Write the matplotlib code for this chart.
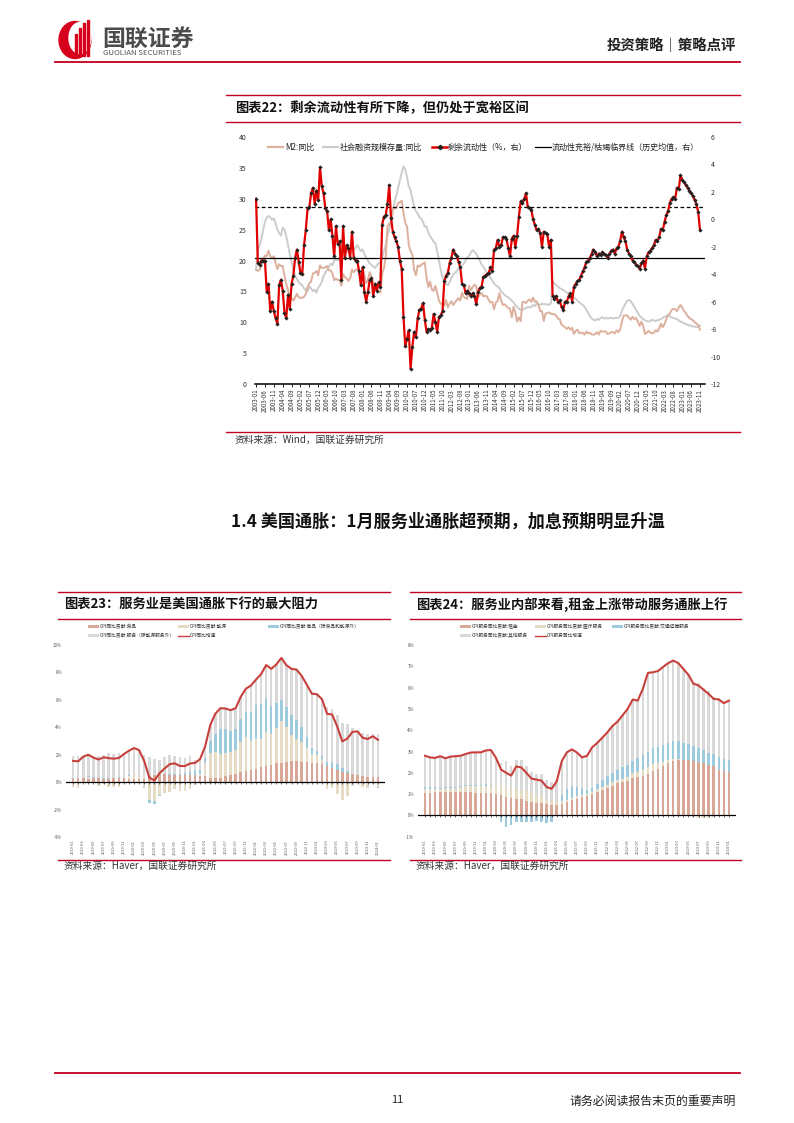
import numpy as np
import pandas as pd
import matplotlib
matplotlib.use('Agg')
import matplotlib.pyplot as plt
from matplotlib.patches import Ellipse, Rectangle

plt.rcParams['font.family'] = ['Noto Sans CJK SC', 'DejaVu Sans']
plt.rcParams['axes.unicode_minus'] = False

W, H = 794, 1123
RED_RULE = '#C00020'

# ---------------- chart 22 data (monthly 2003-01 .. 2023-11) ----------------
months22 = pd.period_range('2003-01', '2023-11', freq='M')

m2_yoy = [
    18.5, 18.3, 18.5, 19.2, 20.2, 20.8, 20.7, 21.6, 20.7, 20.4, 20.7, 19.6,
    18.6, 19.4, 19.1, 19.1, 17.5, 16.2, 15.3, 13.6, 13.9, 13.5, 14.0, 14.6,
    14.1, 13.9, 14.0, 14.1, 14.6, 15.7, 16.3, 16.6, 17.9, 18.0, 18.3, 17.6,
    19.2, 18.8, 18.8, 18.9, 19.1, 18.4, 18.4, 17.9, 16.8, 17.1, 16.8, 16.9,
    15.9, 17.8, 17.3, 17.1, 16.7, 17.1, 18.5, 18.1, 18.5, 18.5, 18.5, 16.7,
    18.9, 17.5, 16.3, 16.9, 18.1, 17.4, 16.4, 16.0, 15.3, 15.0, 14.8, 17.8,
    18.8, 20.5, 25.5, 26.0, 25.7, 28.5, 28.4, 28.5, 29.3, 29.4, 29.7, 27.7,
    26.1, 25.5, 22.5, 21.5, 21.0, 18.5, 17.6, 19.2, 19.0, 19.3, 19.5, 19.7,
    17.2, 15.7, 16.6, 15.3, 15.1, 15.9, 14.7, 13.5, 13.0, 12.9, 12.7, 13.6,
    12.4, 13.0, 13.4, 12.8, 13.2, 13.6, 13.9, 13.5, 14.8, 14.1, 13.9, 13.8,
    15.9, 15.2, 15.7, 16.1, 15.8, 14.0, 14.5, 14.7, 14.2, 14.3, 14.2, 13.6,
    13.2, 13.3, 12.1, 13.2, 13.4, 14.7, 13.5, 12.8, 12.9, 12.6, 12.3, 12.2,
    10.8, 12.5, 11.6, 10.1, 10.8, 10.2, 13.3, 13.3, 13.1, 13.5, 13.7, 13.3,
    14.0, 13.3, 13.4, 12.8, 11.8, 11.8, 10.2, 11.4, 11.5, 11.6, 11.4, 11.3,
    11.3, 11.1, 10.6, 10.5, 9.6, 9.4, 9.2, 8.9, 9.2, 8.8, 9.1, 8.1,
    8.6, 8.8, 8.2, 8.3, 8.3, 8.0, 8.5, 8.2, 8.3, 8.0, 8.0, 8.1,
    8.4, 8.0, 8.6, 8.5, 8.5, 8.5, 8.1, 8.2, 8.4, 8.4, 8.2, 8.7,
    8.4, 8.8, 10.1, 11.1, 11.1, 11.1, 10.7, 10.4, 10.9, 10.5, 10.7, 10.1,
    9.4, 10.1, 9.4, 8.1, 8.3, 8.6, 8.3, 8.2, 8.3, 8.7, 8.5, 9.0,
    9.8, 9.2, 9.7, 10.5, 11.1, 11.4, 12.0, 12.2, 12.1, 11.8, 12.4, 12.8,
    12.4, 11.8, 11.5, 11.0, 10.7, 10.5, 10.3, 10.0, 9.8, 9.5, 8.8,
]

tsf_yoy = [
    18.5, 21.5, 22.5, 23.5, 25.0, 26.2, 27.0, 27.2, 27.0, 26.6, 26.8, 26.0,
    25.0, 24.5, 24.0, 25.3, 25.0, 24.0, 22.5, 21.0, 19.8, 18.5, 17.5, 17.0,
    16.5, 16.2, 16.0, 15.5, 15.2, 15.0, 15.8, 15.5, 15.0, 15.3, 14.8, 15.6,
    16.0, 16.5, 17.5, 18.0, 18.5, 19.0, 19.5, 19.2, 20.0, 20.2, 20.0, 20.5,
    21.0, 21.5, 22.0, 21.6, 21.3, 22.0, 22.2, 21.8, 22.0, 22.5, 22.0, 21.5,
    21.8, 21.0, 20.5, 20.0, 19.5, 19.3, 19.0, 18.8, 19.2, 19.5, 19.8, 20.5,
    21.5, 22.5, 24.0, 25.0, 26.5, 28.0, 29.5, 30.5, 31.8, 33.0, 34.2, 35.2,
    34.8, 33.5, 32.0, 31.4, 30.0, 28.7, 28.0, 27.6, 27.0, 26.8, 26.2, 25.5,
    25.5, 24.5, 23.9, 23.5, 23.0, 22.8, 21.5, 20.0, 18.5, 17.2, 16.8, 16.2,
    16.0, 16.5, 17.2, 17.7, 18.0, 18.3, 18.7, 18.9, 19.2, 19.5, 20.0, 20.5,
    20.8, 21.3, 21.7, 21.4, 21.1, 20.5, 20.0, 19.3, 19.0, 18.5, 18.0, 17.6,
    17.2, 16.8, 16.3, 16.0, 15.8, 15.5, 15.0, 14.7, 14.4, 14.2, 14.0, 13.8,
    13.5, 13.2, 12.8, 12.5, 12.2, 12.0, 12.0, 12.2, 12.3, 12.5, 12.4, 12.5,
    12.8, 12.6, 13.0, 12.9, 12.8, 13.0, 12.9, 13.0, 12.8, 12.9, 13.0, 16.6,
    16.3, 16.0, 15.8, 15.5, 15.4, 15.2, 15.0, 14.8, 14.6, 14.5, 14.2, 14.0,
    13.8, 13.5, 13.2, 13.0, 12.8, 12.5, 12.0, 11.5, 11.0, 10.6, 10.4, 10.3,
    10.5, 10.4, 10.7, 10.8, 10.6, 10.7, 10.6, 10.7, 10.7, 10.6, 10.7, 10.7,
    10.7, 11.0, 11.8, 12.5, 13.0, 13.5, 13.6, 13.4, 13.0, 12.5, 12.0, 11.5,
    11.0, 10.8, 10.5, 10.3, 10.2, 10.1, 10.2, 10.4, 10.3, 10.2, 10.3, 10.4,
    10.5, 10.7, 10.9, 11.0, 11.2, 11.0, 10.8, 10.7, 10.6, 10.5, 10.3, 10.1,
    10.0, 9.8, 9.7, 9.6, 9.5, 9.4, 9.3, 9.3, 9.2, 9.3, 9.5,
]

excess_liq = [
    1.5, -3.2, -3.3, -3.0, -3.0, -3.0, -5.3, -4.7, -6.7, -6.0, -6.7, -7.2,
    -7.6, -4.8, -4.4, -5.2, -6.8, -7.2, -5.5, -6.5, -4.7, -4.1, -2.8, -2.2,
    -3.1, -3.9, -4.0, -1.9, -0.8, 0.8, 0.9, 1.9, 2.3, 1.1, 2.1, 1.4,
    3.8, 2.4, 1.9, 0.8, 0.6, -0.8, 0.0, -1.2, -2.7, -0.5, -1.8, -1.6,
    -4.4, -0.5, -2.8, -1.9, -2.1, -2.8, -0.9, -2.8, -3.0, -3.0, -3.8, -4.8,
    -3.5, -5.3, -6.0, -5.3, -4.4, -4.3, -5.6, -4.7, -5.2, -4.6, -4.9, -0.4,
    0.2, 0.3, 1.1, 2.5, 0.1, -0.9, -1.3, -1.6, -2.0, -3.0, -3.6, -7.1,
    -9.2, -8.7, -8.1, -10.9, -9.3, -8.2, -8.6, -7.2, -6.6, -6.5, -6.1, -7.3,
    -8.2, -8.0, -8.1, -7.9, -6.9, -7.5, -8.2, -7.1, -7.0, -6.7, -4.5, -4.1,
    -3.9, -3.2, -2.8, -2.2, -2.5, -2.7, -3.1, -3.5, -4.7, -4.8, -5.4, -5.2,
    -5.4, -5.6, -5.4, -5.6, -6.2, -5.3, -5.0, -4.9, -4.2, -4.1, -4.0, -3.9,
    -3.5, -3.8, -2.2, -2.1, -1.5, -2.0, -1.9, -1.3, -1.3, -1.4, -2.1, -2.7,
    -1.4, -1.2, -2.0, -1.2, 0.2, 1.3, 1.2, 1.5, 1.9, 0.9, 0.8, 0.7,
    0.0, -0.4, -0.8, -0.7, -1.0, -2.0, -0.9, -1.0, -1.1, -2.0, -1.5, -5.6,
    -5.8, -5.6, -6.0, -5.9, -6.4, -6.6, -6.0, -6.0, -5.6, -5.4, -6.0, -4.9,
    -4.7, -4.5, -4.4, -4.1, -3.8, -3.5, -3.1, -3.0, -2.8, -2.5, -2.2, -2.4,
    -2.7, -2.5, -2.6, -2.4, -2.5, -2.6, -2.8, -2.5, -2.3, -2.2, -2.5, -2.1,
    -2.0, -1.6, -0.9, -1.3, -1.6, -2.2, -2.5, -2.7, -3.0, -3.1, -3.3, -3.4,
    -3.6, -3.2, -3.0, -3.6, -2.7, -2.4, -2.3, -2.1, -1.9, -1.5, -1.6, -1.3,
    -0.7, -0.8, -0.2, 0.3, 0.6, 1.2, 1.5, 1.6, 1.5, 2.3, 2.2, 3.2,
    2.9, 2.7, 2.5, 2.3, 2.1, 1.9, 1.7, 1.4, 1.1, 0.5, -0.8,
]

liq_mean = -2.8      # historical mean (solid line)
liq_upper = 0.9      # dashed line

# ---------------- chart 23 data (monthly 2019-01 .. 2024-01) ----------------
months_us = pd.period_range('2019-01', '2024-01', freq='M')

cpi_food = [
    0.25, 0.27, 0.27, 0.24, 0.27, 0.27, 0.24, 0.24, 0.27, 0.28, 0.27, 0.24,
    0.24, 0.24, 0.26, 0.48, 0.55, 0.59, 0.56, 0.53, 0.52, 0.50, 0.50, 0.53,
    0.53, 0.48, 0.48, 0.33, 0.30, 0.32, 0.45, 0.49, 0.61, 0.72, 0.83, 0.86,
    0.96, 1.07, 1.19, 1.27, 1.37, 1.40, 1.45, 1.53, 1.53, 1.48, 1.45, 1.42,
    1.37, 1.32, 1.17, 1.03, 0.90, 0.77, 0.64, 0.56, 0.50, 0.45, 0.40, 0.37,
    0.35,
]
cpi_energy = [
    -0.35, -0.40, -0.03, 0.13, -0.04, -0.28, -0.17, -0.34, -0.37, -0.34, -0.07, 0.24,
    0.42, 0.16, -0.39, -1.31, -1.35, -0.92, -0.79, -0.69, -0.51, -0.64, -0.62, -0.51,
    -0.24, 0.15, 0.92, 1.77, 1.93, 1.75, 1.66, 1.71, 1.75, 2.23, 2.44, 2.13,
    2.22, 2.06, 2.50, 2.27, 2.58, 3.09, 2.57, 1.89, 1.62, 1.44, 1.04, 0.60,
    0.63, 0.37, -0.52, -0.41, -0.88, -1.31, -1.04, -0.26, -0.04, -0.32, -0.40, -0.14,
    -0.34,
]
cpi_goods = [
    0.04, 0.06, 0.00, 0.05, 0.07, 0.06, 0.05, 0.06, 0.02, 0.06, 0.02, 0.02,
    -0.02, -0.04, -0.02, -0.19, -0.24, -0.08, -0.02, 0.08, 0.10, 0.13, 0.19, 0.19,
    0.34, 0.26, 0.34, 0.88, 1.30, 1.80, 1.74, 1.52, 1.52, 1.68, 1.88, 2.14,
    2.46, 2.58, 2.46, 2.04, 1.79, 1.49, 1.47, 1.49, 1.39, 1.07, 0.78, 0.44,
    0.29, 0.21, 0.32, 0.42, 0.42, 0.27, 0.17, 0.04, 0.00, -0.02, 0.00, 0.04,
    -0.06,
]
cpi_services = [
    1.61, 1.59, 1.62, 1.58, 1.49, 1.60, 1.69, 1.79, 1.79, 1.76, 1.83, 1.79,
    1.85, 1.97, 1.69, 1.35, 1.16, 1.06, 1.24, 1.39, 1.26, 1.19, 1.10, 1.15,
    0.77, 0.79, 0.88, 1.18, 1.46, 1.52, 1.52, 1.53, 1.51, 1.59, 1.66, 1.91,
    1.84, 2.16, 2.39, 2.68, 2.84, 3.08, 3.03, 3.35, 3.66, 3.76, 3.84, 3.99,
    4.12, 4.14, 4.01, 3.89, 3.61, 3.24, 3.41, 3.33, 3.24, 3.13, 3.14, 3.08,
    3.14,
]
cpi_yoy = [
    1.55, 1.52, 1.86, 2.00, 1.79, 1.65, 1.81, 1.75, 1.71, 1.76, 2.05, 2.29,
    2.49, 2.33, 1.54, 0.33, 0.12, 0.65, 0.99, 1.31, 1.37, 1.18, 1.17, 1.36,
    1.40, 1.68, 2.62, 4.16, 4.99, 5.39, 5.37, 5.25, 5.39, 6.22, 6.81, 7.04,
    7.48, 7.87, 8.54, 8.26, 8.58, 9.06, 8.52, 8.26, 8.20, 7.75, 7.11, 6.45,
    6.41, 6.04, 4.98, 4.93, 4.05, 2.97, 3.18, 3.67, 3.70, 3.24, 3.14, 3.35,
    3.09,
]

# ---------------- chart 24 data ----------------
svc_rent = [
    1.05, 1.07, 1.08, 1.08, 1.10, 1.10, 1.08, 1.10, 1.10, 1.08, 1.06, 1.05,
    1.05, 1.05, 1.00, 0.95, 0.85, 0.80, 0.78, 0.75, 0.68, 0.65, 0.60, 0.58,
    0.53, 0.50, 0.50, 0.55, 0.63, 0.70, 0.78, 0.85, 0.90, 1.00, 1.10, 1.20,
    1.30, 1.40, 1.50, 1.55, 1.62, 1.75, 1.80, 1.85, 1.95, 2.10, 2.20, 2.30,
    2.45, 2.55, 2.60, 2.62, 2.58, 2.55, 2.50, 2.45, 2.35, 2.30, 2.15, 2.10,
    2.05,
]
svc_medical = [
    0.18, 0.17, 0.17, 0.17, 0.18, 0.20, 0.22, 0.25, 0.28, 0.30, 0.32, 0.35,
    0.35, 0.35, 0.38, 0.40, 0.45, 0.48, 0.45, 0.45, 0.45, 0.40, 0.38, 0.35,
    0.22, 0.18, 0.15, 0.12, 0.10, 0.10, 0.12, 0.12, 0.12, 0.12, 0.13, 0.13,
    0.15, 0.15, 0.15, 0.18, 0.20, 0.22, 0.25, 0.28, 0.30, 0.30, 0.25, 0.20,
    0.15, 0.10, 0.05, -0.03, -0.05, -0.08, -0.10, -0.10, -0.12, -0.08, -0.05, -0.03,
    0.00,
]
svc_transport = [
    0.10, 0.08, 0.06, 0.05, 0.06, 0.05, 0.04, 0.04, 0.03, 0.03, 0.04, 0.05,
    0.06, 0.05, 0.02, -0.30, -0.55, -0.45, -0.30, -0.33, -0.33, -0.30, -0.28, -0.32,
    -0.35, -0.30, -0.05, 0.30, 0.50, 0.60, 0.45, 0.30, 0.15, 0.18, 0.25, 0.32,
    0.40, 0.45, 0.50, 0.55, 0.55, 0.60, 0.65, 0.70, 0.72, 0.75, 0.76, 0.80,
    0.80, 0.82, 0.85, 0.80, 0.75, 0.70, 0.65, 0.60, 0.60, 0.58, 0.58, 0.56,
    0.55,
]
svc_other = [
    1.47, 1.40, 1.39, 1.48, 1.34, 1.41, 1.44, 1.41, 1.47, 1.54, 1.54, 1.51,
    1.59, 1.62, 1.30, 1.10, 1.25, 1.04, 1.37, 1.38, 1.20, 0.98, 0.98, 1.02,
    0.93, 0.87, 1.00, 1.58, 1.73, 1.70, 1.60, 1.45, 1.63, 1.90, 1.92, 2.00,
    2.05, 2.20, 2.25, 2.42, 2.63, 2.87, 2.69, 3.11, 3.72, 3.57, 3.57, 3.67,
    3.75, 3.80, 3.65, 3.49, 3.32, 3.01, 3.05, 2.95, 2.87, 2.67, 2.76, 2.64,
    2.79,
]
svc_yoy = [
    2.80, 2.72, 2.70, 2.78, 2.68, 2.76, 2.78, 2.80, 2.88, 2.95, 2.96, 2.96,
    3.05, 3.07, 2.70, 2.15, 2.00, 1.87, 2.30, 2.25, 2.00, 1.73, 1.68, 1.63,
    1.33, 1.25, 1.60, 2.55, 2.96, 3.10, 2.95, 2.72, 2.80, 3.20, 3.40, 3.65,
    3.90, 4.20, 4.40, 4.70, 5.00, 5.44, 5.39, 5.94, 6.69, 6.72, 6.78, 6.97,
    7.15, 7.27, 7.15, 6.88, 6.60, 6.18, 6.10, 5.90, 5.70, 5.47, 5.44, 5.27,
    5.39,
]

C_TAN = '#D9A795'
C_BEIGE = '#E6DCC6'
C_BLUE = '#9DCADC'
C_GRAY = '#D9D9D9'
C_LINE = '#C8403C'


def px_rect(x0, y0, x1, y1):
    return [x0 / W, 1 - y1 / H, (x1 - x0) / W, (y1 - y0) / H]


def stack_bars(ax, x, series, colors, width=0.5):
    pos = np.zeros(len(x))
    neg = np.zeros(len(x))
    for vals, c in zip(series, colors):
        v = np.asarray(vals, dtype=float)
        p = np.where(v > 0, v, 0)
        n = np.where(v < 0, v, 0)
        ax.bar(x, p, width, bottom=pos, color=c, lw=0, zorder=2)
        ax.bar(x, n, width, bottom=neg, color=c, lw=0, zorder=2)
        pos += p
        neg += n


fig = plt.figure(figsize=(W / 100, H / 100), dpi=100)

# page layer in pixel coordinates
page = fig.add_axes([0, 0, 1, 1])
page.set_xlim(0, W)
page.set_ylim(H, 0)
page.axis('off')

# ---- header ----
page.add_patch(Ellipse((75, 40), 32, 37, color='#D7001C'))
page.add_patch(Ellipse((80, 38), 22, 31, color='white'))
for bx, top in [(75, 34), (79, 28), (83, 23), (87, 20)]:
    page.add_patch(Rectangle((bx, top), 1.6, 56 - top, color='#D7001C'))
page.text(102, 39, '国联证券', fontsize=16.5, fontweight='bold', color='#4b4b4b', va='center')
page.text(103, 53, 'GUOLIAN SECURITIES', fontsize=5.6, color='#555555', va='center')
page.text(736, 46, '投资策略｜策略点评', fontsize=10.4, fontweight='bold', color='#222222',
          ha='right', va='center')
page.plot([55, 740], [62, 62], color=RED_RULE, lw=1.3)

# ---- chart 22 frame ----
page.plot([226, 740], [94.5, 94.5], color=RED_RULE, lw=1.0)
page.plot([226, 740], [121.5, 121.5], color=RED_RULE, lw=1.0)
page.plot([226, 740], [432, 432], color=RED_RULE, lw=1.0)
page.text(235, 108, '图表22：剩余流动性有所下降，但仍处于宽裕区间', fontsize=9.5,
          fontweight='bold', color='#111111', va='center')
page.text(235, 440, '资料来源：Wind，国联证券研究所', fontsize=7, color='#333333', va='center')

# legend of chart 22
ly = 147
page.plot([268, 283], [ly, ly], color='#DDB09E', lw=1.6)
page.text(285, ly, 'M2:同比', fontsize=5.8, va='center', color='#222222')
page.plot([323, 338], [ly, ly], color='#CCCCCC', lw=1.6)
page.text(340, ly, '社会融资规模存量:同比', fontsize=5.8, va='center', color='#222222')
page.plot([432, 447], [ly, ly], color='#E00000', lw=1.8)
page.plot([439.5], [ly], marker='D', ms=2.2, color='#222222')
page.text(448, ly, '剩余流动性（%，右）', fontsize=5.8, va='center', color='#222222')
page.plot([535, 551], [ly, ly], color='black', lw=0.9)
page.text(552, ly, '流动性充裕/枯竭临界线（历史均值，右）', fontsize=5.8, va='center',
          color='#222222')

ax = fig.add_axes(px_rect(255, 137, 705, 384))
ax.set_facecolor('none')
x22 = np.arange(len(m2_yoy))
ax.plot(np.arange(len(tsf_yoy)), tsf_yoy, color='#CCCCCC', lw=1.4, zorder=2)
ax.plot(x22, m2_yoy, color='#DDB09E', lw=1.4, zorder=2)
ax.set_xlim(-0.6, 252.8)
ax.set_ylim(0, 40)
ax.set_yticks(range(0, 41, 5))
ax.tick_params(axis='y', length=0, labelsize=5, colors='#333333', pad=6)
xt = np.arange(0, len(months22), 5)
ax.set_xticks(xt)
ax.set_xticklabels([months22[i].strftime('%Y-%m') for i in xt], rotation=90,
                   fontsize=4.4, color='#333333')
ax.tick_params(axis='x', length=2, width=0.6, pad=1.5)
for s in ['top', 'right', 'left']:
    ax.spines[s].set_visible(False)
ax.spines['bottom'].set_linewidth(1.1)

ax2 = ax.twinx()
ax2.plot(np.arange(len(excess_liq)), excess_liq, color='#E00000', lw=1.6, marker='D',
         ms=1.9, mfc='#222222', mec='#222222', mew=0.2, zorder=3)
ax2.axhline(liq_mean, color='black', lw=0.9, zorder=2)
ax2.axhline(liq_upper, color='black', lw=0.9, ls=(0, (3, 2)), zorder=2)
ax2.set_ylim(-12, 6)
ax2.set_yticks(range(-12, 7, 2))
ax2.tick_params(axis='y', length=0, labelsize=5, colors='#333333', pad=4)
for s in ['top', 'right', 'left', 'bottom']:
    ax2.spines[s].set_visible(False)

# ---- section heading ----
page.text(448, 522, '1.4 美国通胀：1月服务业通胀超预期，加息预期明显升温', fontsize=12.3,
          fontweight='bold', color='#111111', ha='center', va='center')


def us_chart(x0, x1, title, legend_items, series, colors, line_vals, ylo, yhi):
    page.plot([x0 - 8, x1 + 5], [592, 592], color=RED_RULE, lw=1.0)
    page.plot([x0 - 8, x1 + 5], [619, 619], color=RED_RULE, lw=1.0)
    page.plot([x0 - 8, x1 + 5], [860, 860], color=RED_RULE, lw=1.0)
    page.text(x0 - 2, 605, title, fontsize=9.5, fontweight='bold', color='#111111', va='center')
    page.text(x0 - 2, 866, '资料来源：Haver，国联证券研究所', fontsize=7, color='#333333',
              va='center')
    for (lx, ly_, label, kind, col) in legend_items:
        if kind == 'bar':
            page.add_patch(Rectangle((lx, ly_ - 1.3), 11, 2.6, color=col, lw=0))
        else:
            page.plot([lx, lx + 11], [ly_, ly_], color=col, lw=1.0)
        page.text(lx + 12, ly_, label, fontsize=3.4, va='center', color='#333333')

    axb = fig.add_axes(px_rect(x0, 645, x1, 837 if ylo == -4 else 836.7))
    axb.set_facecolor('none')
    xb = np.arange(len(line_vals))
    stack_bars(axb, xb, series, colors, width=0.5)
    axb.plot(xb, line_vals, color=C_LINE, lw=1.5, zorder=4)
    axb.axhline(0, color='black', lw=0.9, zorder=3)
    axb.plot(xb, np.zeros(len(xb)), ls='none', marker=3, ms=1.5, mew=0.4, color='black',
             zorder=3)
    axb.set_ylim(ylo, yhi)
    axb.set_xlim(-1.4, len(xb) + 0.4)
    step = 2 if ylo == -4 else 1
    yt = np.arange(ylo, yhi + 0.1, step)
    axb.set_yticks(yt)
    axb.set_yticklabels(['%d%%' % v for v in yt], fontsize=3.2, color='#555555')
    axb.tick_params(axis='y', length=0, pad=3)
    xt2 = np.arange(0, len(xb), 2)
    axb.set_xticks(xt2)
    axb.set_xticklabels([months_us[i].strftime('%Y-%m') for i in xt2], rotation=90,
                        fontsize=2.8, color='#555555')
    axb.tick_params(axis='x', length=0, pad=2)
    for s in axb.spines.values():
        s.set_visible(False)


us_chart(66, 385, '图表23：服务业是美国通胀下行的最大阻力',
         [(88, 626.5, 'CPI同比贡献:食品', 'bar', C_TAN),
          (178, 626.5, 'CPI同比贡献:能源', 'bar', C_BEIGE),
          (268, 626.5, 'CPI同比贡献:商品（除食品和能源外）', 'bar', C_BLUE),
          (88, 635.5, 'CPI同比贡献:服务（除能源服务外）', 'bar', C_GRAY),
          (178, 635.5, 'CPI同比增速', 'line', C_LINE)],
         [cpi_food, cpi_energy, cpi_goods, cpi_services],
         [C_TAN, C_BEIGE, C_BLUE, C_GRAY], cpi_yoy, -4, 10)

us_chart(418, 736, '图表24：服务业内部来看,租金上涨带动服务通胀上行',
         [(460, 626.5, 'CPI服务同比贡献:租金', 'bar', C_TAN),
          (535, 626.5, 'CPI服务同比贡献:医疗服务', 'bar', C_BEIGE),
          (612, 626.5, 'CPI服务同比贡献:交通运输服务', 'bar', C_BLUE),
          (460, 635.5, 'CPI服务同比贡献:其他服务', 'bar', C_GRAY),
          (535, 635.5, 'CPI服务同比增速', 'line', C_LINE)],
         [svc_rent, svc_medical, svc_transport, svc_other],
         [C_TAN, C_BEIGE, C_BLUE, C_GRAY], svc_yoy, -1, 8)

# ---- footer ----
page.plot([55, 740], [1073, 1073], color=RED_RULE, lw=1.3)
page.text(397, 1100, '11', fontsize=8, color='#222222', ha='center', va='center')
page.text(736, 1101, '请务必阅读报告末页的重要声明', fontsize=8.6, color='#222222',
          ha='right', va='center')

fig.savefig('out.png', dpi=100)
